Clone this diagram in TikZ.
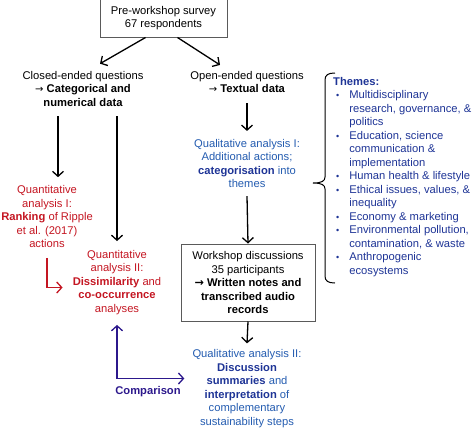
\documentclass[tikz,border=0pt]{standalone}
\usepackage{fontspec}
\setmainfont{Liberation Sans}
\newfontfamily\dejavu{DejaVu Sans}
\usetikzlibrary{arrows.meta}
\definecolor{qred}{RGB}{196,22,34}
\definecolor{qblue}{RGB}{36,92,176}
\definecolor{qdblue}{RGB}{30,52,150}
\definecolor{qpurple}{RGB}{44,24,140}
\definecolor{boxgray}{RGB}{90,90,90}
\newcommand{\fs}{\fontsize{11.2}{13.5}\selectfont}
\newcommand{\rarr}{{\dejavu\fontsize{10}{13.5}\selectfont →}}
\newcommand{\bul}{{\fontsize{9}{13.5}\selectfont •}}
\begin{document}
\begin{tikzpicture}[x=1pt,y=-1pt,
  txt/.style={align=center,inner sep=0pt,font=\fs},
  boxed/.style={txt,draw=boxgray,line width=1pt},
  arr/.style={line width=1.3pt,-{Straight Barb[length=5pt,width=11pt,line width=1.3pt]}},
  redarr/.style={arr,draw=qred},
  purparr/.style={line width=1.3pt,draw=qpurple,{Straight Barb[length=5pt,width=11pt,line width=1.3pt]}-{Straight Barb[length=5pt,width=11pt,line width=1.3pt]}}]
\useasboundingbox (0,0) rectangle (474,431);
\node[boxed,minimum width=127pt,minimum height=38pt] (survey) at (163.5,18) {Pre-workshop survey\\67 respondents};
\node[txt] (closed) at (83,88.5) {Closed-ended questions\\\rarr{} \textbf{Categorical and}\\\textbf{numerical data}};
\node[txt] (open) at (247,82) {Open-ended questions\\\rarr{} \textbf{Textual data}};
\node[txt,text=qblue] (qual1) at (247,163.5) {Qualitative analysis I:\\Additional actions;\\\textbf{\color{qdblue}categorisation} into\\themes};
\node[txt,text=qred] (quant1) at (47,216.5) {Quantitative\\analysis I:\\\textbf{Ranking} of Ripple\\et al. (2017)\\actions};
\node[txt,text=qred] (quant2) at (117,282.5) {Quantitative\\analysis II:\\\textbf{Dissimilarity} and\\\textbf{co-occurrence}\\analyses};
\node[boxed,minimum width=134pt,minimum height=77pt] (workshop) at (248,282.5) {Workshop discussions\\35 participants\\\textbf{{\dejavu\bfseries →} Written notes and}\\\textbf{transcribed audio}\\\textbf{records}};
\node[txt,text=qblue] (qual2) at (247,388.5) {Qualitative analysis II:\\\textbf{\color{qdblue}Discussion}\\\textbf{\color{qdblue}summaries} and\\\textbf{\color{qdblue}interpretation} of\\complementary\\sustainability steps};
\node[txt,text=qpurple,font=\fs\bfseries] (comparison) at (148,392) {Comparison};
\node[inner sep=0pt,anchor=north west,text=qdblue,font=\fs] (themes) at (333,75.5) {%
\renewcommand{\arraystretch}{1}%
\begin{tabular}{@{\hspace{3pt}}l@{\hspace{10pt}}l@{}}
\multicolumn{2}{@{}l}{\textbf{Themes:}}\\
\bul & Multidisciplinary\\
 & research, governance, \&\\
 & politics\\
\bul & Education, science\\
 & communication \&\\
 & implementation\\
\bul & Human health \& lifestyle\\
\bul & Ethical issues, values, \&\\
 & inequality\\
\bul & Economy \& marketing\\
\bul & Environmental pollution,\\
 & contamination, \& waste\\
\bul & Anthropogenic\\
 & ecosystems
\end{tabular}};
\draw[line width=1pt] (335,73) .. controls (328,73) and (325,75) .. (325,80) -- (325,177)
  .. controls (325,181) and (322,183) .. (313,183)
  .. controls (322,183) and (325,185) .. (325,189) -- (325,276)
  .. controls (325,281) and (328,283) .. (335,283);
\draw[arr] ([xshift=-18pt]survey.south) -- ([xshift=17pt,yshift=7pt]closed.north);
\draw[arr] ([xshift=14pt]survey.south) -- ([xshift=-27pt,yshift=6pt]open.north);
\draw[arr] ([xshift=-25pt,yshift=-10pt]closed.south) -- ([xshift=11pt,yshift=8pt]quant1.north);
\draw[arr] ([xshift=34pt,yshift=-10pt]closed.south) -- ([yshift=9pt]quant2.north);
\draw[arr] ([yshift=-10pt]open.south) -- ([yshift=8pt]qual1.north);
\draw[arr] ([yshift=-8pt]qual1.south) -- (workshop.north);
\draw[arr] (workshop.south) -- ([yshift=6pt]qual2.north);
\draw[redarr] ([yshift=-10pt]quant1.south) |- ([xshift=-10pt,yshift=-5pt]quant2.west);
\draw[purparr] ([yshift=-10pt]quant2.south) |- ([xshift=-8pt,yshift=10pt]qual2.west);
\end{tikzpicture}
\end{document}
